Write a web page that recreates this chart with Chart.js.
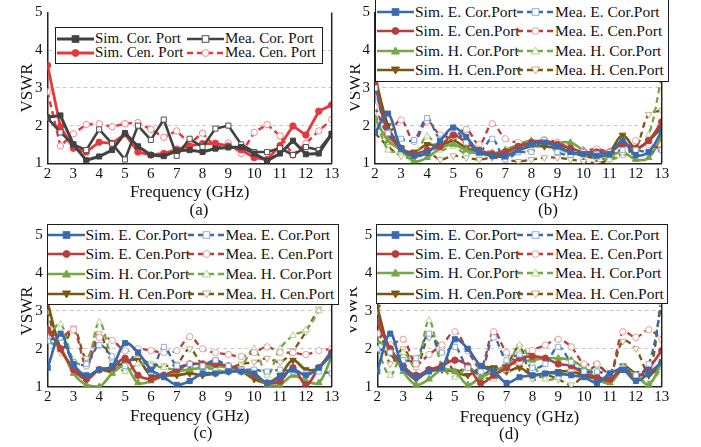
<!DOCTYPE html>
<html><head><meta charset="utf-8">
<script src="https://cdn.jsdelivr.net/npm/chart.js@4.4.0/dist/chart.umd.min.js"></script>
<style>
html,body{margin:0;padding:0;background:#fff;}
#wrap{position:relative;width:701px;height:447px;overflow:hidden;font-family:'Liberation Serif','DejaVu Serif',serif;color:#111;}
.pane{position:absolute;overflow:hidden;}
.leg{position:absolute;background:#fff;border:1.6px solid #1c1c1c;box-sizing:border-box;}
.item{position:absolute;height:18px;display:flex;align-items:center;white-space:nowrap;}
.item svg{display:block;flex:none;}
.sub{position:absolute;font-size:17px;transform:translate(-50%,-50%);white-space:nowrap;}
</style></head><body><div id="wrap"></div>
<script>
// ---------------- data ----------------
const freq = [2,2.5,3,3.5,4,4.5,5,5.5,6,6.5,7,7.5,8,8.5,9,9.5,10,10.5,11,11.5,12,12.5,13];
const xTickVals = [2,3,4,5,6,7,8,9,10,11,12,13];
const yTickVals = [1,2,3,4,5];
const xTitle = 'Frequency (GHz)';
const yTitle = 'VSWR';

// panel (a)
const aNames = ['Sim. Cor. Port','Mea. Cor. Port','Sim. Cen. Port','Mea. Cen. Port'];
const aSimCor = [2.22,2.27,1.50,1.08,1.18,1.35,1.80,1.45,1.22,1.19,1.33,1.35,1.30,1.39,1.42,1.43,1.26,1.07,1.26,1.60,1.24,1.26,1.78];
const aMeaCor = [2.20,1.82,1.50,1.35,1.90,1.52,1.10,2.00,1.62,2.16,1.20,1.65,1.43,1.92,2.00,1.50,1.30,1.30,1.40,1.22,1.43,1.35,1.78];
const aSimCen = [3.60,1.97,1.40,1.30,1.56,1.53,1.78,1.30,1.22,1.26,1.37,1.46,1.52,1.53,1.46,1.36,1.15,1.10,1.47,1.99,1.75,2.38,2.55];
const aMeaCen = [2.90,1.46,1.78,2.03,2.05,1.97,2.05,2.08,1.90,1.69,1.86,1.52,1.80,1.43,1.54,1.26,1.82,2.03,1.73,1.22,1.53,1.86,2.16];

// panels (b)-(d)
const bcdNames = ['Sim. E. Cor.Port','Mea. E. Cor.Port','Sim. E. Cen.Port','Mea. E. Cen.Port','Sim. H. Cor.Port','Mea. H. Cor.Port','Sim. H. Cen.Port','Mea. H. Cen.Port'];

const bSimECor = [1.80,2.32,1.40,1.20,1.28,1.60,1.95,1.70,1.30,1.20,1.18,1.35,1.50,1.55,1.45,1.30,1.25,1.20,1.25,1.60,1.22,1.30,1.85];
const bMeaECor = [3.00,1.80,1.65,1.62,2.20,1.65,1.92,1.55,1.30,1.65,1.10,1.30,1.30,1.62,1.30,1.22,1.30,1.25,1.30,1.35,1.35,1.30,1.35];
const bSimECen = [3.10,1.80,1.40,1.25,1.35,1.45,1.75,1.55,1.35,1.25,1.30,1.45,1.55,1.60,1.50,1.40,1.30,1.30,1.30,1.50,1.40,1.60,2.10];
const bMeaECen = [2.50,1.82,2.15,1.58,2.12,1.75,1.72,1.90,1.50,2.05,1.65,1.55,1.50,1.62,1.55,1.40,1.33,1.38,1.30,1.30,1.60,1.50,1.38];
const bSimHCor = [2.20,1.60,1.35,1.05,1.15,1.40,1.50,1.35,1.25,1.25,1.35,1.50,1.60,1.55,1.55,1.55,1.35,1.20,1.20,1.30,1.10,1.15,1.70];
const bMeaHCor = [2.30,1.35,1.30,1.20,1.72,1.35,1.45,1.25,1.35,1.30,1.30,1.30,1.35,1.55,1.35,1.30,1.20,1.15,1.10,1.20,1.30,1.75,3.30];
const bSimHCen = [3.30,2.00,1.40,1.30,1.50,1.45,1.60,1.40,1.30,1.20,1.25,1.35,1.45,1.45,1.40,1.30,1.20,1.15,1.30,1.75,1.40,1.60,1.95];
const bMeaHCen = [1.80,1.45,1.20,1.15,1.30,1.10,1.20,1.15,1.10,1.15,1.10,1.05,1.10,1.15,1.15,1.10,1.05,1.00,1.10,1.25,1.40,2.30,2.40];

const cSimECor = [1.50,2.40,1.60,1.30,1.45,1.55,2.15,1.90,1.45,1.25,1.05,1.15,1.35,1.35,1.40,1.40,1.35,1.10,1.25,1.45,1.30,1.50,1.85];
const cMeaECor = [2.20,2.30,1.65,1.60,2.10,1.80,1.55,1.90,1.40,2.05,1.55,1.60,1.55,1.70,1.55,1.45,1.45,1.40,1.45,1.40,1.35,1.40,1.35];
const cSimECen = [2.50,2.00,1.45,1.20,1.45,1.50,1.75,1.30,1.20,1.30,1.45,1.60,1.60,1.60,1.55,1.45,1.30,1.10,1.15,1.50,1.05,1.50,1.90];
const cMeaECen = [2.50,2.30,2.50,1.55,2.30,2.22,1.95,2.00,1.95,1.90,1.95,2.32,2.00,1.90,1.85,1.80,1.90,2.05,1.90,1.90,1.85,1.95,2.00];
const cSimHCor = [2.20,2.00,1.35,1.05,1.00,1.35,1.55,1.10,1.15,1.30,1.40,1.45,1.50,1.55,1.50,1.40,1.30,1.05,1.05,1.30,1.15,1.10,1.80];
const cMeaHCor = [2.30,2.65,1.70,1.60,2.70,1.75,1.40,1.60,1.55,1.50,1.45,1.50,1.50,1.45,1.40,1.55,2.00,1.30,2.00,2.35,2.50,3.00,3.60];
const cSimHCen = [3.20,2.00,1.50,1.25,1.45,1.40,1.65,1.70,1.30,1.30,1.30,1.35,1.30,1.35,1.40,1.40,1.20,1.10,1.30,1.70,1.45,1.50,1.95];
const cMeaHCen = [3.00,1.90,2.55,1.75,2.40,1.65,1.60,1.75,1.60,1.55,1.60,2.00,1.60,1.70,1.50,1.60,1.65,1.75,1.65,1.95,2.45,3.05,3.40];

const dSimECor = [1.40,2.40,1.50,1.25,1.40,1.50,2.25,2.00,1.55,1.40,1.10,1.25,1.30,1.35,1.35,1.30,1.25,1.10,1.35,1.45,1.15,1.35,1.65];
const dMeaECor = [2.00,1.90,1.70,1.75,2.40,1.90,2.05,1.50,1.40,2.30,1.70,1.85,1.50,1.60,2.05,1.65,1.40,1.40,1.35,1.50,1.30,1.60,3.20];
const dSimECen = [2.70,2.00,1.55,1.30,1.45,1.55,1.70,1.55,1.10,1.30,1.50,1.75,1.80,1.75,1.60,1.55,1.35,1.25,1.20,1.45,1.25,1.50,1.95];
const dMeaECen = [2.40,2.10,2.25,1.60,1.85,2.10,2.45,1.95,1.50,2.45,1.90,1.65,1.95,2.10,2.25,2.05,1.60,1.60,1.35,2.45,2.30,2.50,2.25];
const dSimHCor = [2.20,2.00,1.40,1.05,1.20,1.45,1.40,1.05,1.25,1.40,1.55,1.65,1.70,1.75,1.75,1.70,1.50,1.20,1.10,1.45,1.30,1.05,1.65];
const dMeaHCor = [2.00,1.30,1.90,1.50,2.75,1.55,1.25,1.50,1.30,1.20,1.45,2.10,1.60,1.20,1.25,1.45,1.45,1.40,1.30,1.50,1.30,1.10,1.50];
const dSimHCen = [3.10,1.90,1.50,1.20,1.45,1.45,1.40,1.30,1.50,1.50,1.40,1.50,1.30,1.35,1.40,1.40,1.30,1.20,1.15,1.55,1.35,1.30,1.60];
const dMeaHCen = [3.00,1.60,2.00,1.50,2.30,2.00,1.40,1.50,1.30,1.50,1.60,2.05,1.20,1.30,1.20,1.05,1.30,1.55,1.35,2.20,2.00,1.35,3.40];

// ---------------- styles ----------------
const FONT = "'Liberation Serif','DejaVu Serif',serif";
const GRAY = '#424242', RED_A = '#e8383d';
const BLUE = '#3a6aae', RED = '#b53f3d', GREEN = '#76a646', BROWN = '#7a5810';
const LIGHT = {[BLUE]:'#8fb0dd',[RED]:'#e3a0a0',[GREEN]:'#b0d296',[BROWN]:'#c5b088',[GRAY]:'#505050',[RED_A]:'#f08a8a'};

function sty(color, marker, mea, dashed, lw){ return {color, marker, open:mea, dashed, lw}; }
const aStyles = [sty(GRAY,'rect',false,false,3), sty(GRAY,'rect',true,false,2.6), sty(RED_A,'circle',false,false,2.8), sty(RED_A,'circle',true,true,2.5)];
const bcdStyles = [
  sty(BLUE,'rect',false,false,2.7), sty(BLUE,'rect',true,true,2.3),
  sty(RED,'circle',false,false,2.7), sty(RED,'circle',true,true,2.3),
  sty(GREEN,'triangle',false,false,2.7), sty(GREEN,'triangle',true,true,2.3),
  sty(BROWN,'tridown',false,false,2.7), sty(BROWN,'tridown',true,true,2.3)
];

const panels = [
  {id:'a', left:0, top:0, w:350, h:220, area:{l:47.5,r:331.7,t:8.5,b:163.3}, yPad:19, xPad:18.5, tension:0,
   sub:{t:'(a)',x:199,y:210}, names:aNames, values:[aSimCor,aMeaCor,aSimCen,aMeaCen], styles:aStyles,
   leg:{l:55,t:27,w:268,h:37,font:15,rows:[10.5,24.5],cols:[1,131],lw:37}},
  {id:'b', left:350, top:0, w:351, h:220, area:{l:25,r:311.7,t:8.5,b:163.3}, yPad:-2.5, xPad:18.5, tension:0.35,
   sub:{t:'(b)',x:548,y:210}, names:bcdNames, values:[bSimECor,bMeaECor,bSimECen,bMeaECen,bSimHCor,bMeaHCor,bSimHCen,bMeaHCen], styles:bcdStyles,
   leg:{l:375,t:-1,w:294,h:83,font:15.5,rows:[12,31,50.5,70],cols:[1,141],lw:37}},
  {id:'c', left:0, top:220, w:350, h:227, area:{l:47.7,r:331.7,t:15,b:166.7}, yPad:19, xPad:21.5, tension:0.35,
   sub:{t:'(c)',x:203,y:432.5}, names:bcdNames, values:[cSimECor,cMeaECor,cSimECen,cMeaECen,cSimHCor,cMeaHCor,cSimHCen,cMeaHCen], styles:bcdStyles,
   leg:{l:46.5,t:224,w:292,h:81,font:15.5,rows:[9.5,29,48.5,68.5],cols:[0,140],lw:37}},
  {id:'d', left:350, top:220, w:351, h:227, area:{l:27.3,r:311.7,t:15,b:166.7}, yPad:-5.5, xPad:20.5, tension:0.35,
   sub:{t:'(d)',x:509,y:434}, names:bcdNames, values:[dSimECor,dMeaECor,dSimECen,dMeaECen,dSimHCor,dMeaHCor,dSimHCen,dMeaHCen], styles:bcdStyles,
   leg:{l:376,t:224,w:292,h:80,font:15.5,rows:[9.5,28.5,48,68.5],cols:[0,140],lw:37}}
];

// ---------------- helpers ----------------
const frame = {id:'frame', afterDatasetsDraw(chart){
  const {ctx, chartArea:a} = chart; ctx.save(); ctx.strokeStyle='#222'; ctx.lineWidth=1.5;
  ctx.beginPath(); ctx.moveTo(a.right, a.top); ctx.lineTo(a.right, a.bottom); ctx.stroke(); ctx.restore();
}};

function markerSvg(m, cx, cy, fill, stroke){
  if (m==='rect') return `<rect x="${cx-3.3}" y="${cy-3.3}" width="6.6" height="6.6" fill="${fill}" stroke="${stroke}" stroke-width="1"/>`;
  if (m==='circle') return `<circle cx="${cx}" cy="${cy}" r="3.4" fill="${fill}" stroke="${stroke}" stroke-width="1"/>`;
  if (m==='triangle') return `<polygon points="${cx},${cy-4} ${cx-4},${cy+3} ${cx+4},${cy+3}" fill="${fill}" stroke="${stroke}" stroke-width="1"/>`;
  return `<polygon points="${cx},${cy+4} ${cx-4},${cy-3} ${cx+4},${cy-3}" fill="${fill}" stroke="${stroke}" stroke-width="1"/>`;
}

const wrap = document.getElementById('wrap');

function build(){
panels.forEach(p => {
  const pane = document.createElement('div');
  pane.className='pane'; pane.style.left=p.left+'px'; pane.style.top=p.top+'px';
  pane.style.width=p.w+'px'; pane.style.height=p.h+'px';
  const cv = document.createElement('canvas'); cv.width=p.w; cv.height=p.h;
  cv.style.width=p.w+'px'; cv.style.height=p.h+'px';
  pane.appendChild(cv); wrap.appendChild(pane);

  const datasets = p.values.map((vals,i) => {
    const s = p.styles[i];
    const down = s.marker==='tridown';
    return {
      label: p.names[i],
      data: freq.map((f,k)=>({x:f, y:vals[k]})),
      borderColor: s.color, backgroundColor: s.color,
      borderWidth: s.lw, borderDash: s.dashed ? [6,4] : [],
      pointStyle: down ? 'triangle' : s.marker, pointRotation: down ? 180 : 0,
      pointRadius: s.marker==='rect' ? 3.6 : (s.marker==='circle' ? 3.2 : 3.8),
      pointBackgroundColor: s.open ? '#ffffff' : s.color,
      pointBorderColor: s.open ? LIGHT[s.color] : s.color,
      pointBorderWidth: 1,
      tension: p.tension, fill:false
    };
  });

  new Chart(cv, {
    type:'line',
    data:{datasets},
    plugins:[frame],
    options:{
      responsive:false, animation:false, devicePixelRatio:1,
      layout:{padding:{left:0, top:p.area.t, right:p.w-p.area.r, bottom:0}},
      plugins:{legend:{display:false}, tooltip:{enabled:false}},
      scales:{
        x:{type:'linear', min:2, max:13,
          afterBuildTicks: s => { s.ticks = xTickVals.map(v=>({value:v})); },
          ticks:{color:'#111', font:{family:FONT,size:15,lineHeight:1}, padding:3, maxRotation:0, autoSkip:false},
          grid:{display:false, drawTicks:false},
          border:{display:true, color:'#222', width:1.5},
          title:{display:true, text:xTitle, color:'#111', font:{family:FONT,size:17,lineHeight:1}, padding:{top:0,bottom:p.xPad}},
          afterFit: s => { s.height = p.h - p.area.b; }
        },
        y:{min:1, max:5,
          afterBuildTicks: s => { s.ticks = yTickVals.map(v=>({value:v})); },
          ticks:{color:'#111', font:{family:FONT,size:15,lineHeight:1}, padding:5},
          grid:{color: c => (c.tick && (c.tick.value===1 || c.tick.value===5)) ? 'rgba(0,0,0,0)' : '#c9c9c9', lineWidth:1, drawTicks:false},
          border:{display:true, color:'#222', width:1.5, dash:[4,3]},
          title:{display:true, text:yTitle, color:'#111', font:{family:FONT,size:17,lineHeight:1}, padding:{top:p.yPad,bottom:0}},
          afterFit: s => { s.width = p.area.l; }
        }
      }
    }
  });

  // legend
  const L = p.leg;
  const box = document.createElement('div'); box.className='leg';
  box.style.left=L.l+'px'; box.style.top=L.t+'px'; box.style.width=L.w+'px'; box.style.height=L.h+'px';
  box.style.fontSize = L.font+'px';
  p.names.forEach((name,i) => {
    const s = p.styles[i];
    const row = Math.floor(i/2), col = i%2;
    const it = document.createElement('div'); it.className='item';
    it.style.left = L.cols[col]+'px'; it.style.top = (L.rows[row]-9)+'px';
    const W = L.lw, cy = 9;
    const dash = s.dashed ? 'stroke-dasharray="6,4"' : '';
    const fill = s.open ? '#ffffff' : s.color;
    const stroke = s.open ? LIGHT[s.color] : s.color;
    it.innerHTML = `<svg width="${W}" height="18" viewBox="0 0 ${W} 18"><line x1="0" y1="${cy}" x2="${W}" y2="${cy}" stroke="${s.color}" stroke-width="${s.lw}" ${dash}/>${markerSvg(s.marker, W/2, cy, fill, stroke)}</svg><span style="margin-left:1px">${name}</span>`;
    box.appendChild(it);
  });
  wrap.appendChild(box);

  const sub = document.createElement('div'); sub.className='sub';
  sub.style.left=p.sub.x+'px'; sub.style.top=p.sub.y+'px'; sub.textContent=p.sub.t;
  wrap.appendChild(sub);
});
}
if (document.fonts && document.fonts.load) {
  Promise.all([document.fonts.load("15px 'Liberation Serif'"), document.fonts.load("15px 'DejaVu Serif'")]).then(build, build);
} else build();
</script></body></html>
